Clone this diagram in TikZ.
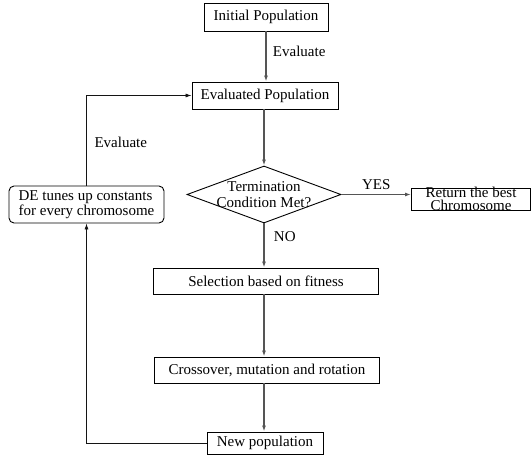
\documentclass[tikz,border=0pt]{standalone}
\usepackage{fontspec}
\setmainfont{Liberation Serif}
\usepackage{tikz}
\usetikzlibrary{%
  positioning,calc,arrows.meta,shapes.geometric}
\usepackage{xcolor}
\definecolor{flowgray}{RGB}{85,85,85}
\definecolor{loopblack}{RGB}{20,20,20}

\begin{document}
\begin{tikzpicture}[x=1pt,y=-1pt,
  font=\fontsize{15}{15}\selectfont,
  stepbox/.style={draw,line width=0.9pt,inner sep=0pt,align=center},
  flow/.style={draw=flowgray,line width=1.3pt,-{Latex[length=6pt,width=4pt]}},
  loopline/.style={draw=loopblack,line width=0.8pt}]
  \useasboundingbox (0,0) rectangle (531,457);
  % main chain
  \node[stepbox,minimum width=124,minimum height=28] (init) at (266,17) {Initial Population};
  \node[stepbox,minimum width=146,minimum height=27] (evalpop) at (265,95.5) {Evaluated Population};
  \node[stepbox,shape=diamond,aspect=2.7,inner sep=-8pt,
        minimum width=154,minimum height=57,
        font=\fontsize{15}{16}\selectfont] (term) at (264,194.5) {Termination\\Condition Met?};
  \node[stepbox,inner ysep=-6pt,minimum width=119,minimum height=22,text depth=0pt,
        font=\fontsize{15}{13.5}\selectfont] (best) at (471,199) {Return the best\\Chromosome};
  \node[stepbox,minimum width=225,minimum height=26] (select) at (266,281) {Selection based on fitness};
  \node[stepbox,minimum width=225,minimum height=26] (cross) at (267,370) {Crossover, mutation and rotation};
  \node[stepbox,minimum width=116,minimum height=22] (newpop) at (265,443) {New population};
  \node[stepbox,rounded corners=5pt,align=left,inner xsep=5pt,
        minimum width=155,minimum height=37,
        font=\fontsize{15}{14.5}\selectfont] (tune) at (86.5,204.5) {DE tunes up constants\\for every chromosome};
  \draw[flow] (init.south) -- (evalpop.north -| init.south)
    node[pos=0.4,right=3pt] (lbltop) {Evaluate};
  \draw[flow] (evalpop.south -| term.north) -- (term.north);
  \draw[flow] (term.south) -- (select.north -| term.south)
    node[pos=0.3,right=6pt] (lblno) {NO};
  \draw[flow] (select.south -| term.south) -- (cross.north -| term.south);
  \draw[flow] (cross.south -| term.south) -- (newpop.north -| term.south);
  \draw[flow] (term.east) -- (best.west |- term.east)
    node[midway,above=1pt] (lblyes) {YES};
  % feedback loop
  \coordinate (cornerlow) at (tune.south |- newpop.west);
  \coordinate (cornerup) at (tune.north |- evalpop.west);
  \draw[loopline,-{Latex[length=6pt,width=4pt]}] (newpop.west) -- (cornerlow) -- (tune.south);
  \draw[loopline,-{Latex[length=6pt,width=4pt]}] (tune.north) -- (cornerup) -- (evalpop.west);
  \node[anchor=west] (lblloop) at (91,142) {Evaluate};
\end{tikzpicture}
\end{document}
